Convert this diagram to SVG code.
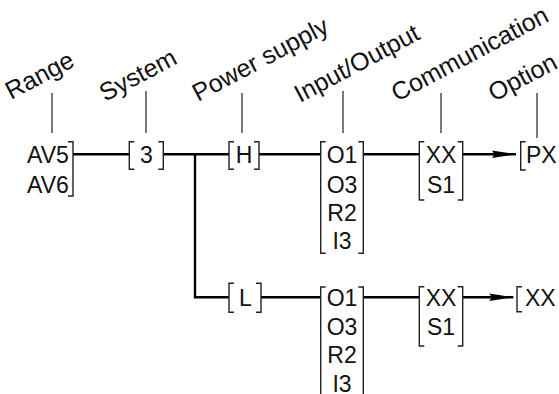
<svg xmlns="http://www.w3.org/2000/svg" width="559" height="394" viewBox="0 0 559 394">
<style>
text{font-family:"Liberation Sans",Arial,Helvetica,sans-serif;fill:#111}
.t{font-size:23px}
.lbl{font-size:25px}
.m{text-anchor:middle}
.br{fill:none;stroke:#222;stroke-width:1.4}
.ld{fill:none;stroke:#333;stroke-width:1.3}
.ln{fill:none;stroke:#000;stroke-width:2.4}
</style>
<defs>
<marker id="ah" markerUnits="userSpaceOnUse" markerWidth="26" markerHeight="10" refX="24" refY="5" orient="auto">
<path d="M0,1.2 L24,5 L0,8.8 L2.5,5 Z" fill="#000"/>
</marker>
</defs>
<rect width="559" height="394" fill="#fff"/>
<g id="labels">
<text class="lbl" transform="translate(11,100) rotate(-28)">Range</text>
<text class="lbl" transform="translate(105,102) rotate(-28)">System</text>
<text class="lbl" transform="translate(198,102) rotate(-28)">Power supply</text>
<text class="lbl" transform="translate(300,103) rotate(-28)">Input/Output</text>
<text class="lbl" transform="translate(397,102) rotate(-28)">Communication</text>
<text class="lbl" transform="translate(494,102) rotate(-28)">Option</text>
<path class="ld" d="M52,93V133M146,91V133M242,93V133M343,91V133M441,93V133M537,93V138"/>
</g>
<g id="connectors">
<path class="ln" d="M73,154.3H129.3M163.3,154.3H229M195,154.3V297.3H229M259,154.3H320.7M363.3,154.3H419.3M261,297.3H320.7M363.3,297.3H419.3"/>
<path class="ln" d="M462.7,154.3H516" marker-end="url(#ah)"/>
<path class="ln" d="M462.7,297.3H513.3" marker-end="url(#ah)"/>
</g>
<g id="range">
<path class="br" d="M68,141.7H73V196H68"/>
<text class="t" x="27" y="163.3">AV5</text>
<text class="t" x="27" y="192.5">AV6</text>
</g>
<g id="system">
<path class="br" d="M134.3,141.7H129.3V169.3H134.3M158.3,141.7H163.3V169.3H158.3"/>
<text class="t m" x="146.3" y="163.3">3</text>
</g>
<g id="power-h">
<path class="br" d="M234,141.7H229V169.3H234M254,141.7H259V169.3H254"/>
<text class="t m" x="244" y="163.3">H</text>
</g>
<g id="power-l">
<path class="br" d="M234,283.3H229V312.3H234M256,283.3H261V312.3H256"/>
<text class="t m" x="245.5" y="306">L</text>
</g>
<g id="io-1">
<path class="br" d="M325.7,141.7H320.7V253.3H325.7M358.3,141.7H363.3V253.3H358.3"/>
<text class="t m" x="342" y="163.3">O1</text>
<text class="t m" x="342" y="192.5">O3</text>
<text class="t m" x="342" y="220.8">R2</text>
<text class="t m" x="342" y="249">I3</text>
</g>
<g id="io-2">
<path class="br" d="M325.7,287H320.7V400M358.3,287H363.3V400"/>
<text class="t m" x="342" y="306">O1</text>
<text class="t m" x="342" y="335">O3</text>
<text class="t m" x="342" y="363.3">R2</text>
<text class="t m" x="342" y="391.5">I3</text>
</g>
<g id="comm-1">
<path class="br" d="M424.3,141.7H419.3V200H424.3M457.7,141.7H462.7V200H457.7"/>
<text class="t m" x="441" y="163.3">XX</text>
<text class="t m" x="441" y="192.5">S1</text>
</g>
<g id="comm-2">
<path class="br" d="M424.3,286.7H419.3V346H424.3M457.7,286.7H462.7V346H457.7"/>
<text class="t m" x="441" y="306">XX</text>
<text class="t m" x="441" y="335">S1</text>
</g>
<g id="option-1">
<path class="br" d="M525.7,141.7H520.7V170H525.7"/>
<text class="t" x="526" y="163.3">PX</text>
</g>
<g id="option-2">
<path class="br" d="M522,286.7H517V311.7H522"/>
<text class="t" x="525" y="306">XX</text>
</g>
</svg>
